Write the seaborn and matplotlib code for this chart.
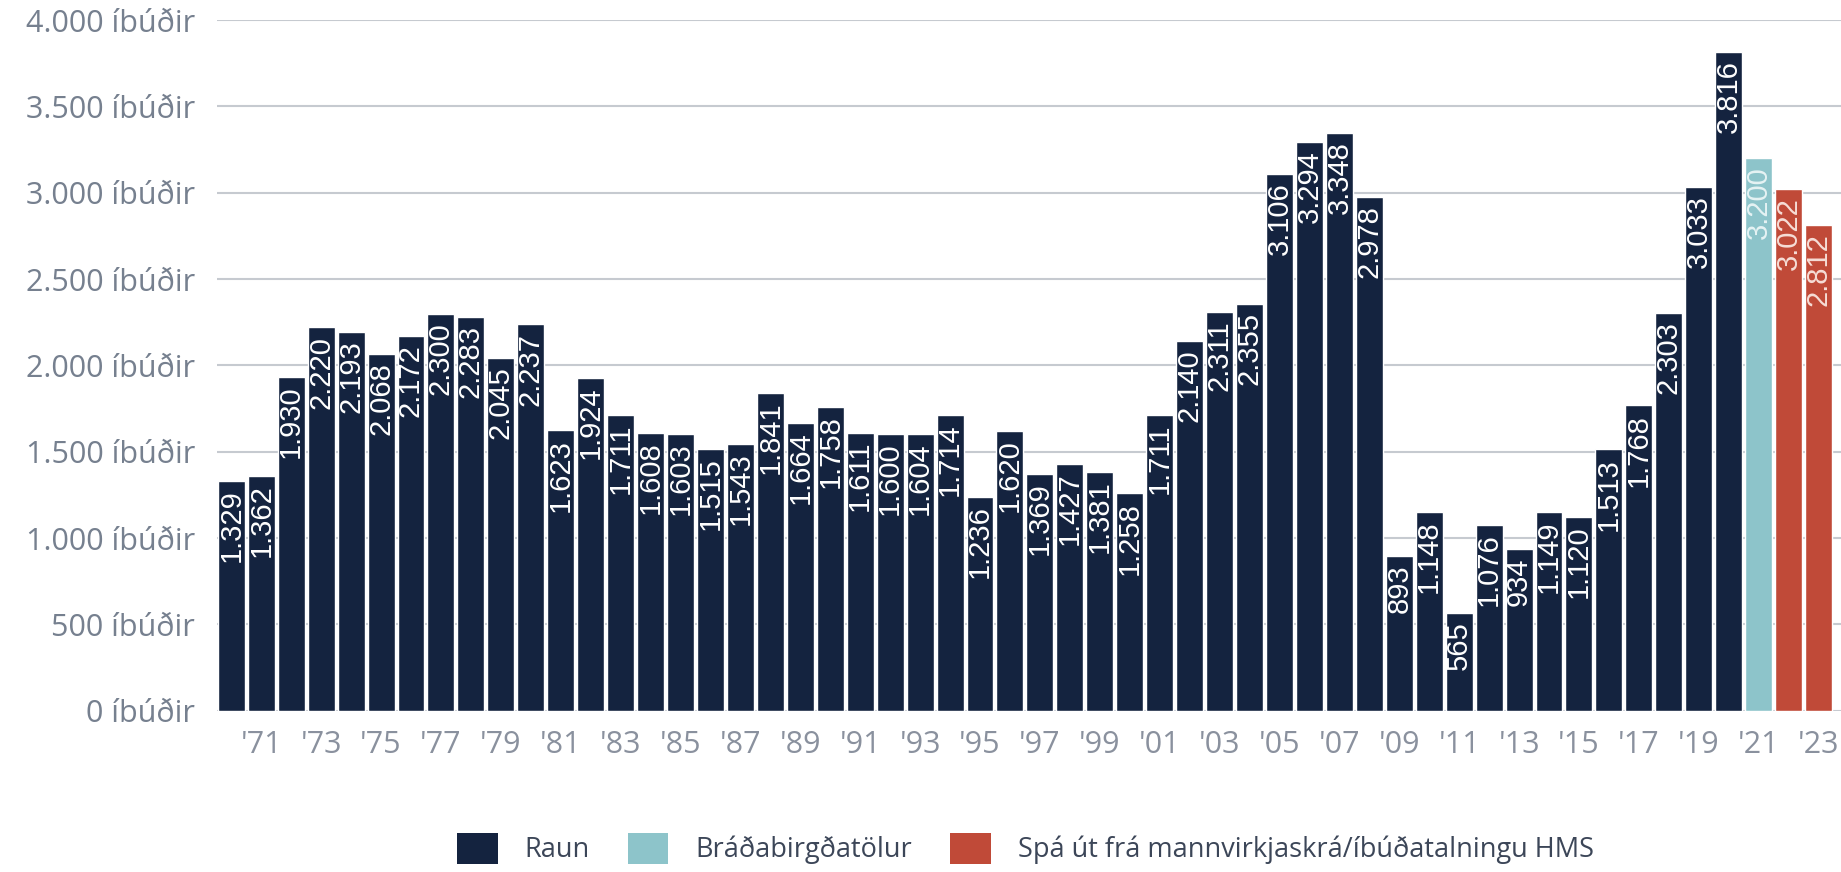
import pandas as pd
import matplotlib.pyplot as plt
import seaborn as sns
from matplotlib.patches import Patch

# ibudir fullgerdar a ari
years = list(range(1970, 2024))
values = [1329, 1362, 1930, 2220, 2193, 2068, 2172, 2300, 2283, 2045,
          2237, 1623, 1924, 1711, 1608, 1603, 1515, 1543, 1841, 1664,
          1758, 1611, 1600, 1604, 1714, 1236, 1620, 1369, 1427, 1381,
          1258, 1711, 2140, 2311, 2355, 3106, 3294, 3348, 2978, 893,
          1148, 565, 1076, 934, 1149, 1120, 1513, 1768, 2303, 3033,
          3816, 3200, 3022, 2812]
kinds = ["Raun"] * 51 + ["Bráðabirgðatölur"] + ["Spá út frá mannvirkjaskrá/íbúðatalningu HMS"] * 2

categories = ["Raun", "Bráðabirgðatölur", "Spá út frá mannvirkjaskrá/íbúðatalningu HMS"]
colors = ["#14233f", "#8dc4ca", "#c04a38"]
label_colors = ["#ffffff", "#e6f3f4", "#f6ddd6"]

y_ticks = list(range(0, 4001, 500))

df = pd.DataFrame({"year": years, "value": values, "kind": kinds})

sns.set_theme(style="white")
plt.rcParams["font.family"] = ["Open Sans", "DejaVu Sans"]

fig = plt.figure(figsize=(18.41, 8.72), dpi=100)
ax = fig.add_axes([0.118, 0.185, 0.882, 0.792])

sns.barplot(data=df, x="year", y="value", hue="kind", hue_order=categories,
            palette=colors, dodge=False, width=0.9, saturation=1,
            legend=False, ax=ax, zorder=2)

def fmt(v):
    return f"{int(v):,}".replace(",", ".")

for cont, lc in zip(ax.containers, label_colors):
    for bar in cont:
        h = bar.get_height()
        if h != h or h == 0:
            continue
        ax.annotate(fmt(h), (bar.get_x() + bar.get_width() / 2, h),
                    xytext=(0, -6), textcoords="offset points",
                    rotation=90, ha="center", va="top", color=lc,
                    fontsize=21, family="Liberation Sans", zorder=3)

ax.set_ylim(0, 4000)
ax.set_xlim(-0.47, 53.75)
ax.set_yticks(y_ticks)
ax.set_yticklabels([f"{fmt(t)} íbúðir" for t in y_ticks])
odd = [i for i, y in enumerate(years) if y % 2 == 1]
ax.set_xticks(odd)
ax.set_xticklabels(["'" + str(years[i])[2:] for i in odd])
ax.tick_params(axis="y", length=0, pad=16, labelsize=22, labelcolor="#76808f")
ax.tick_params(axis="x", length=0, pad=14, labelsize=22, labelcolor="#8a919e")
ax.yaxis.grid(True, color="#c6cad0", linewidth=1.5, zorder=0)
ax.set_axisbelow(True)
ax.set_xlabel("")
ax.set_ylabel("")
sns.despine(ax=ax, left=True, bottom=True)

handles = [Patch(facecolor=c, edgecolor="none") for c in colors]
fig.legend(handles, categories, loc="center", bbox_to_anchor=(0.557, 0.027),
           ncol=3, frameon=False, fontsize=19.5, handlelength=1.5,
           handleheight=1.4, handletextpad=1.0, columnspacing=1.4,
           labelcolor="#3c4658")

fig.savefig("out.png", dpi=100)
